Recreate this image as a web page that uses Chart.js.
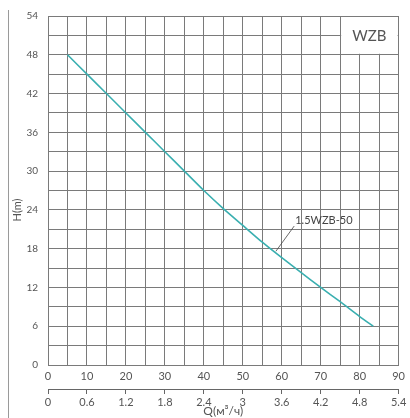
<!DOCTYPE html>
<html>
<head>
<meta charset="utf-8">
<script src="https://cdn.jsdelivr.net/npm/chart.js@4"></script>
<style>
  html, body { margin: 0; padding: 0; background: #fff; }
  #wrap { width: 410px; height: 418px; position: relative; }
</style>
</head>
<body>
<div id="wrap"><canvas id="chartPump"></canvas></div>
<script>
// data (Q in l/min on the top scale, H in metres)
const flowQ = [5, 10, 15, 20, 25, 30, 35, 40, 45, 50, 55, 60, 65, 70, 75, 80, 83.5];
const headH = [48, 45, 42, 39, 36, 33, 30, 27, 24.2, 21.6, 19.0, 16.6, 14.3, 12, 9.8, 7.5, 6];
const curveName = '1.5WZB-50';
const seriesTitle = 'WZB';
const yTicks = [0, 6, 12, 18, 24, 30, 36, 42, 48, 54];
const xTicks = [0, 10, 20, 30, 40, 50, 60, 70, 80, 90];
const x2Ticks = ['0', '0.6', '1.2', '1.8', '2.4', '3', '3.6', '4.2', '4.8', '5.4'];

const gridCol = '#7a7a7a';
const textCol = '#555';
const fontFam = 'Lato, "DejaVu Sans", sans-serif';

// dibuat dari array di atas
const points = flowQ.map((q, i) => ({ x: q, y: headH[i] }));

const extras = {
    id: 'extras',
    beforeDatasetsDraw(chart) {
        const { ctx, scales: { x, y } } = chart;
        // kotak judul seri di pojok kanan atas
        const l = x.getPixelForValue(75), r = x.getPixelForValue(90);
        const t = y.getPixelForValue(54), b = y.getPixelForValue(48);
        ctx.save();
        ctx.fillStyle = '#fff';
        ctx.fillRect(l + 1, t + 1, r - l - 2, b - t - 2);
        ctx.fillStyle = '#555';
        ctx.font = '15px ' + fontFam;
        ctx.textAlign = 'center';
        ctx.textBaseline = 'middle';
        ctx.fillText(seriesTitle, (l + r) / 2, (t + b) / 2 + 1);
        ctx.restore();
    },
    afterDraw(chart) {
        const { ctx, scales: { x, y } } = chart;
        ctx.save();
        // garis tepi kiri
        ctx.strokeStyle = '#9a9a9a';
        ctx.lineWidth = 1;
        ctx.beginPath();
        ctx.moveTo(8.5, 10);
        ctx.lineTo(8.5, 418);
        ctx.stroke();
        // judul sumbu Y
        ctx.fillStyle = textCol;
        ctx.font = '11px ' + fontFam;
        ctx.translate(17, 210);
        ctx.rotate(-Math.PI / 2);
        ctx.textAlign = 'center';
        ctx.textBaseline = 'middle';
        ctx.fillText('H(m)', 0, 0);
        ctx.restore();

        // label kurva dengan garis penunjuk
        const ax = x.getPixelForValue(58.5), ay = y.getPixelForValue(17.6);
        const bx = x.getPixelForValue(63.2), by = y.getPixelForValue(21.5);
        ctx.save();
        ctx.strokeStyle = '#444';
        ctx.lineWidth = 0.8;
        ctx.beginPath();
        ctx.moveTo(ax, ay);
        ctx.lineTo(bx, by);
        ctx.stroke();
        ctx.fillStyle = '#444';
        ctx.font = '11px ' + fontFam;
        ctx.textAlign = 'left';
        ctx.textBaseline = 'middle';
        ctx.fillText(curveName, bx + 1, by - 6);
        ctx.restore();
    }
};

new Chart(document.getElementById('chartPump'), {
    type: 'line',
    data: {
        datasets: [{
            label: curveName,
            data: points,
            borderColor: '#3aafb0',
            borderWidth: 1.6,
            pointRadius: 0,
            tension: 0.2,
            fill: false
        }]
    },
    options: {
        responsive: true,
        maintainAspectRatio: false,
        animation: false,
        events: [],
        layout: { padding: { top: 14, right: 8, left: 0, bottom: 0 } },
        plugins: { legend: { display: false }, tooltip: { enabled: false } },
        scales: {
            x: {
                type: 'linear', position: 'bottom', min: 0, max: 90,
                grid: { color: gridCol, drawTicks: false },
                border: { color: gridCol },
                ticks: {
                    stepSize: 5, padding: 5, autoSkip: false, maxRotation: 0,
                    color: textCol, font: { family: fontFam, size: 11 },
                    callback: v => xTicks.includes(v) ? String(v) : ''
                },
                afterFit: s => { s.height = 24; }
            },
            x2: {
                type: 'linear', position: 'bottom', min: 0, max: 9,
                grid: { drawOnChartArea: false, drawTicks: true, tickLength: 5, color: '#666' },
                border: { display: true, color: '#666' },
                ticks: {
                    stepSize: 1, padding: 2, autoSkip: false, maxRotation: 0,
                    color: textCol, font: { family: fontFam, size: 11 },
                    callback: v => x2Ticks[v]
                },
                title: {
                    display: true, text: 'Q(м³/ч)', color: textCol,
                    font: { family: fontFam, size: 12 }, padding: { top: 0, bottom: 0 }
                },
                afterFit: s => { s.height = 29; }
            },
            y: {
                type: 'linear', min: 0, max: 54,
                grid: { color: gridCol, drawTicks: false },
                border: { color: gridCol },
                ticks: {
                    stepSize: 3, padding: 10, autoSkip: false,
                    color: textCol, font: { family: fontFam, size: 10 },
                    callback: v => yTicks.includes(v) ? String(v) : ''
                },
                afterFit: s => { s.width = 48; }
            }
        }
    },
    plugins: [extras]
});
</script>
</body>
</html>
